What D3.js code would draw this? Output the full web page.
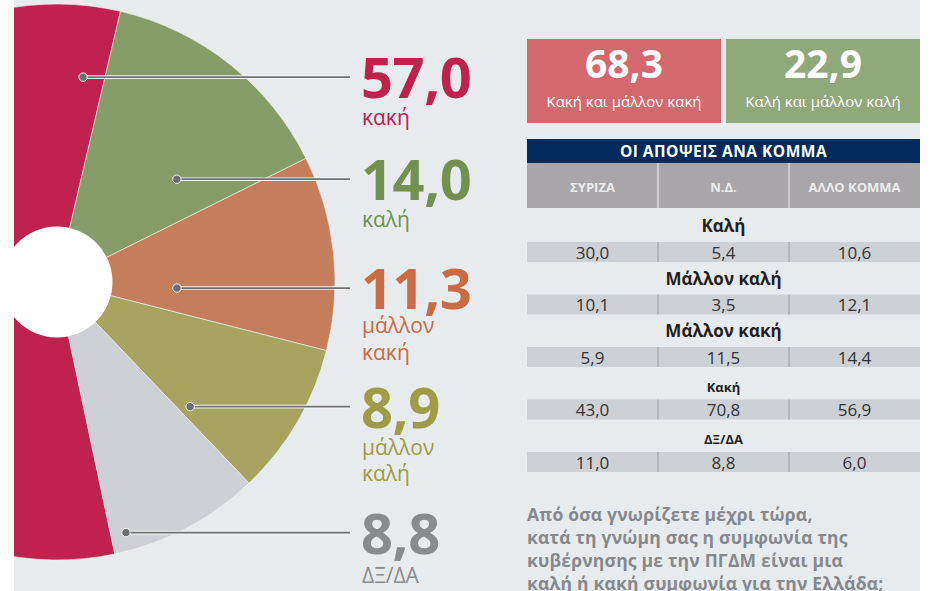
<!DOCTYPE html>
<html>
<head>
<meta charset="utf-8">
<script src="https://cdn.jsdelivr.net/npm/d3@7"></script>
<style>
  html, body { margin: 0; padding: 0; background: #fff; }
  svg { display: block; }
</style>
</head>
<body>
<script>
// ---- data ----
var sliceLabels = ["κακή", "καλή", "μάλλον κακή", "μάλλον καλή", "ΔΞ/ΔΑ"];
var sliceValues = [57.0, 14.0, 11.3, 8.9, 8.8];

var summaryValues = [68.3, 22.9];
var summaryLabels = ["Κακή και μάλλον κακή", "Καλή και μάλλον καλή"];

var tableTitle = "ΟΙ ΑΠΟΨΕΙΣ ΑΝΑ ΚΟΜΜΑ";
var parties = ["ΣΥΡΙΖΑ", "Ν.Δ.", "ΑΛΛΟ ΚΟΜΜΑ"];
var opinionRows = ["Καλή", "Μάλλον καλή", "Μάλλον κακή", "Κακή", "ΔΞ/ΔΑ"];
var syrizaVals = [30.0, 10.1, 5.9, 43.0, 11.0];
var ndVals = [5.4, 3.5, 11.5, 70.8, 8.8];
var otherVals = [10.6, 12.1, 14.4, 56.9, 6.0];

var questionLines = [
    "Από όσα γνωρίζετε μέχρι τώρα,",
    "κατά τη γνώμη σας η συμφωνία της",
    "κυβέρνησης με την ΠΓΔΜ είναι μια",
    "καλή ή κακή συμφωνία για την Ελλάδα;"
];

// ---- layout / styles ----
var CH = {};    // chart scope

CH.W = 936;
CH.H = 591;
CH.font = "'Open Sans', 'Noto Sans', sans-serif";
CH.bg = "#e8ebee";

CH.sliceClr = ["#c0224f", "#869d6a", "#c47e5c", "#a7a45f", "#cdd0d5"];
CH.textClr  = ["#c0224f", "#72904f", "#c96b43", "#9e9c45", "#8a8b8f"];
CH.boxClr   = ["#d3696f", "#90a97b"];

// where along each slice (angle fraction, radius fraction) the leader dot sits
CH.dotAng = [0.971, 0.718, 0.72, 0.90, 0.893];
CH.dotRad = [0.743, 0.568, 0.432, 0.656, 0.935];
// vertical gap of the first sub label under the dot (two-line labels sit a bit higher)
CH.subGap = [48, 48, 45, 48, 50];

CH.fmt = d3.formatLocale({ decimal: ",", thousands: ".", grouping: [3], currency: ["", "€"] }).format(".1f");

CH.svg = d3.select("body").append("svg")
    .attr("width", CH.W)
    .attr("height", CH.H)
    .style("font-family", CH.font);

// grey panel
CH.svg.append("rect")
    .attr("x", 14).attr("y", 0)
    .attr("width", 906).attr("height", CH.H)
    .attr("fill", CH.bg);

CH.svg.append("clipPath").attr("id", "panelClip")
    .append("rect")
    .attr("x", 14).attr("y", 0)
    .attr("width", 906).attr("height", CH.H);

/* ---- pie ---- */
CH.cx = 57;
CH.cy = 282;
CH.outerR = 278;
CH.innerR = 55.5;

CH.deg = Math.PI / 180;
CH.pie = d3.pie()
    .sort(null)
    .value(function(d) { return d; })
    .startAngle(-192 * CH.deg)
    .endAngle(168 * CH.deg);

CH.arcs = CH.pie(sliceValues);

CH.arc = d3.arc()
    .innerRadius(0)
    .outerRadius(CH.outerR);

CH.pieGrp = CH.svg.append("g")
    .attr("clip-path", "url(#panelClip)");

CH.pieGrp.append("g")
    .attr("transform", "translate(" + CH.cx + "," + CH.cy + ")")
    .selectAll("path")
    .data(CH.arcs)
    .enter()
    .append("path")
    .attr("d", CH.arc)
    .attr("fill", function(d, i) { return CH.sliceClr[i]; })
    .attr("stroke", "#f1f1ee")
    .attr("stroke-width", 0.6);

CH.pieGrp.append("circle")
    .attr("cx", CH.cx).attr("cy", CH.cy)
    .attr("r", CH.innerR)
    .attr("fill", "#fff");

/* leader dot position for slice i */
CH.dotPos = function(d, i) {
    var a = d.startAngle + CH.dotAng[i] * (d.endAngle - d.startAngle);
    var r = CH.dotRad[i] * CH.outerR;
    return [CH.cx + r * Math.sin(a), CH.cy - r * Math.cos(a)];
};

CH.lineEnd = 350;
CH.labelX = 362;

CH.leaders = CH.svg.append("g");
CH.arcs.forEach(function(d, i) {
    var p = CH.dotPos(d, i);
    // light outline under the line
    CH.leaders.append("line")
        .attr("x1", p[0]).attr("x2", CH.lineEnd)
        .attr("y1", p[1]).attr("y2", p[1])
        .attr("stroke", "#f4f4f4")
        .attr("stroke-width", 3.6);
    CH.leaders.append("line")
        .attr("x1", p[0]).attr("x2", CH.lineEnd)
        .attr("y1", p[1]).attr("y2", p[1])
        .attr("stroke", "#6f7074")
        .attr("stroke-width", 1.8);
    CH.leaders.append("circle")
        .attr("cx", p[0]).attr("cy", p[1])
        .attr("r", 4.2)
        .attr("fill", "#6d6e72")
        .attr("stroke", "#f4f4f4")
        .attr("stroke-width", 1);

    // big number
    CH.leaders.append("text")
        .attr("x", CH.labelX - 1)
        .attr("y", p[1] + 21)
        .attr("fill", CH.textClr[i])
        .attr("font-size", "56px")
        .attr("font-weight", 700)
        .attr("letter-spacing", "-0.4px")
        .text(CH.fmt(sliceValues[i]));

    // sub label, one word per line
    sliceLabels[i].split(" ").forEach(function(w, j) {
        CH.leaders.append("text")
            .attr("x", CH.labelX)
            .attr("y", p[1] + CH.subGap[i] + j * 26.5)
            .attr("fill", CH.textClr[i])
            .attr("font-size", "21px")
            .text(w);
    });
});

/* ---- summary boxes ---- */
CH.boxX = d3.scaleBand()
    .domain(d3.range(summaryValues.length))
    .range([527, 920])
    .paddingInner(0.0251);

CH.boxes = CH.svg.append("g").selectAll("g")
    .data(summaryValues)
    .enter()
    .append("g")
    .attr("transform", function(d, i) { return "translate(" + CH.boxX(i) + ",39)"; });

CH.boxes.append("rect")
    .attr("width", CH.boxX.bandwidth())
    .attr("height", 84)
    .attr("fill", function(d, i) { return CH.boxClr[i]; });

CH.boxes.append("text")
    .attr("x", CH.boxX.bandwidth() / 2)
    .attr("y", 39)
    .attr("text-anchor", "middle")
    .attr("fill", "#fff")
    .attr("font-size", "39px")
    .attr("font-weight", 700)
    .text(function(d) { return CH.fmt(d); });

CH.boxes.append("text")
    .attr("x", CH.boxX.bandwidth() / 2)
    .attr("y", 68)
    .attr("text-anchor", "middle")
    .attr("fill", "#fff")
    .attr("font-size", "15px")
    .text(function(d, i) { return summaryLabels[i]; });

/* ---- table ---- */
CH.tbl = CH.svg.append("g");
CH.colX = d3.scaleBand()
    .domain(parties)
    .range([527, 920]);

CH.tbl.append("rect")
    .attr("x", 527).attr("y", 139)
    .attr("width", 393).attr("height", 24)
    .attr("fill", "#002b5c");

CH.tbl.append("text")
    .attr("x", 723.5).attr("y", 157)
    .attr("text-anchor", "middle")
    .attr("fill", "#fff")
    .attr("font-size", "15.5px")
    .attr("font-weight", 700)
    .attr("letter-spacing", "0.5px")
    .text(tableTitle);

CH.tbl.append("rect")
    .attr("x", 527).attr("y", 163)
    .attr("width", 393).attr("height", 45)
    .attr("fill", "#a8a6a9");

CH.tbl.selectAll(".colHead")
    .data(parties)
    .enter()
    .append("text")
    .attr("class", "colHead")
    .attr("x", function(d) { return CH.colX(d) + CH.colX.bandwidth() / 2; })
    .attr("y", 192)
    .attr("text-anchor", "middle")
    .attr("fill", "#ececec")
    .attr("font-size", "13px")
    .attr("font-weight", 700)
    .text(function(d) { return d; });

CH.tbl.selectAll(".colSep")
    .data(parties.slice(1))
    .enter()
    .append("line")
    .attr("class", "colSep")
    .attr("x1", function(d) { return CH.colX(d); })
    .attr("x2", function(d) { return CH.colX(d); })
    .attr("y1", 163).attr("y2", 208)
    .attr("stroke", "#f2f2f2")
    .attr("stroke-width", 1);

CH.rowTop = function(i) { return 242 + i * 52.5; };
CH.titleSize = [17, 17, 17, 13, 13];

CH.cols = [syrizaVals, ndVals, otherVals];

opinionRows.forEach(function(row, i) {
    var y0 = CH.rowTop(i);
    CH.tbl.append("text")
        .attr("x", 723.5)
        .attr("y", y0 - (CH.titleSize[i] > 14 ? 10 : 8))
        .attr("text-anchor", "middle")
        .attr("fill", "#231f20")
        .attr("font-size", CH.titleSize[i] + "px")
        .attr("font-weight", 700)
        .text(row);

    CH.tbl.append("rect")
        .attr("x", 527).attr("y", y0)
        .attr("width", 393).attr("height", 20)
        .attr("fill", "#cdd0d5");

    parties.forEach(function(p, k) {
        if (k > 0) {
            CH.tbl.append("line")
                .attr("x1", CH.colX(p)).attr("x2", CH.colX(p))
                .attr("y1", y0).attr("y2", y0 + 20)
                .attr("stroke", "#9c9ea2")
                .attr("stroke-width", 1);
        }
        CH.tbl.append("text")
            .attr("x", CH.colX(p) + CH.colX.bandwidth() / 2)
            .attr("y", y0 + 16.5)
            .attr("text-anchor", "middle")
            .attr("fill", "#333")
            .attr("font-size", "17px")
            .text(CH.fmt(CH.cols[k][i]));
    });
});

/* ---- question text ---- */
CH.svg.append("g").selectAll("text")
    .data(questionLines)
    .enter()
    .append("text")
    .attr("x", 527)
    .attr("y", function(d, i) { return 521 + i * 23; })
    .attr("fill", "#86888c")
    .attr("font-size", "17.5px")
    .attr("font-weight", 700)
    .attr("letter-spacing", "0.2px")
    .text(function(d) { return d; });
</script>
</body>
</html>
